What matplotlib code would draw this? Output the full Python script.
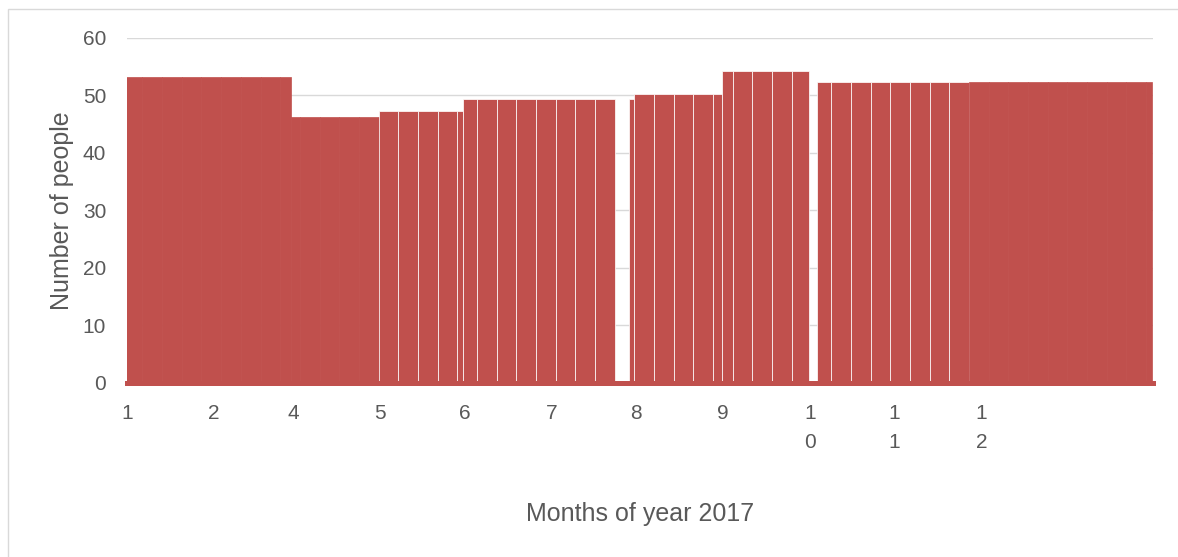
import numpy as np
import pandas as pd
import matplotlib
matplotlib.use("Agg")
import matplotlib.pyplot as plt
import matplotlib.dates as mdates
from matplotlib.patches import Rectangle

# people per month
month_values = [53.3, 53.3, 46.3, 47.3, 49.4, 49.4, 50.3, 54.3, 52.3, 52.3, 52.3, 52.3]
# labels under month ticks, exactly as in the source
tick_labels = ["1", "2", "4", "5", "6", "7", "8", "9", "1\n0", "1\n1", "1\n2", "", ""]
# days without data
missing_days = [("2017-06-24", "2017-06-28"), ("2017-09-01", "2017-09-03")]
# weeks drawn with thin separators
split_from = pd.Timestamp("2017-04-01")
split_to = pd.Timestamp("2017-10-27")

RED = "#C0504D"
GREY_TXT = "#595959"
plt.rcParams['font.family'] = ['Liberation Sans', 'DejaVu Sans']

# daily table -> weekly segments (split at month change / gaps)
days = pd.date_range("2017-01-01", "2017-12-31", freq="D")
df = pd.DataFrame({"day": days})
df["value"] = [month_values[d.month - 1] for d in days]
for a, b in missing_days:
    df.loc[(df.day >= a) & (df.day <= b), "value"] = 0.0
df["week"] = df.day.dt.dayofyear // 7
df["grp"] = (df[["week", "value"]].diff().fillna(1) != 0).any(axis=1).cumsum()

fig = plt.figure(figsize=(11.78, 5.57), dpi=100)
ax = fig.add_axes([0.1078, 0.3124, 0.8710, 0.6194])

for g, seg in df.groupby("grp"):
    v = seg.value.iloc[0]
    if v <= 0:
        continue
    left = mdates.date2num(seg.day.iloc[0]) - 0.5
    n = len(seg)
    inside = seg.day.iloc[0] >= split_from and seg.day.iloc[-1] <= split_to
    if inside:
        ax.bar(left, v, width=n, align="edge", color=RED,
               edgecolor=(1, 1, 1, 0.75), linewidth=0.7, zorder=2)
    else:
        ax.bar(left, v, width=n, align="edge", color=RED,
               edgecolor=RED, linewidth=0.5, zorder=2)

# axis
ticks = pd.date_range("2017-01-01", "2018-01-01", freq="MS")
ax.set_xlim(mdates.date2num(ticks[0]), mdates.date2num(ticks[-1]))
ax.set_xticks(mdates.date2num(ticks))
ax.set_xticklabels(tick_labels, linespacing=1.65)
ax.set_ylim(0, 60)
ax.set_yticks(np.arange(0, 61, 10))
ax.tick_params(axis="both", length=0, labelsize=15, labelcolor=GREY_TXT)
ax.tick_params(axis="x", pad=15)
ax.tick_params(axis="y", pad=15)
for lab in ax.get_xticklabels():
    lab.set_verticalalignment("top")

ax.set_axisbelow(True)
ax.yaxis.grid(True, color="#D9D9D9", linewidth=1.0)
for s in ["top", "right", "left"]:
    ax.spines[s].set_visible(False)
ax.spines["bottom"].set_color(RED)
ax.spines["bottom"].set_linewidth(3.6)
ax.spines["bottom"].set_zorder(3)

ax.set_ylabel("Number of people", fontsize=18, color=GREY_TXT)
ax.yaxis.set_label_coords(-0.052, 0.5)
fig.text(0.543, 1 - 514 / 557, "Months of year 2017", fontsize=18,
         color=GREY_TXT, ha="center", va="center")

# outer chart frame
fig.patches.append(Rectangle((8 / 1178, -0.02), 1.1, 1 - 9 / 557 + 0.02,
                             transform=fig.transFigure, fill=False,
                             edgecolor="#D9D9D9", linewidth=1.0))

fig.savefig("out.png", dpi=100)
